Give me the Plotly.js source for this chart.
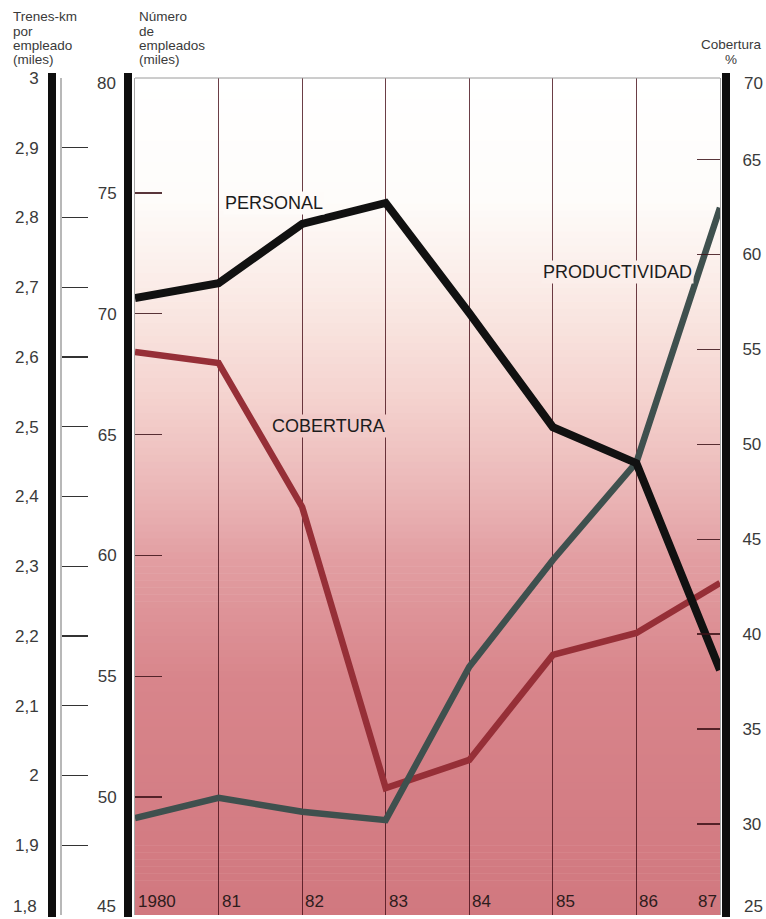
<!DOCTYPE html>
<html>
<head>
<meta charset="utf-8">
<script src="https://cdn.plot.ly/plotly-3.0.1.min.js"></script>
<style>html,body{margin:0;padding:0;background:#fff}</style>
</head>
<body>
<div id="chart" style="width:766px;height:919px"></div>
<script>
// Years on the horizontal axis
const years = [1980, 1981, 1982, 1983, 1984, 1985, 1986, 1987];
const yearLabels = ['1980', '81', '82', '83', '84', '85', '86', '87'];

// PERSONAL: número de empleados (miles)
const personal = [70.65, 71.27, 73.72, 74.59, 70.03, 65.31, 63.82, 55.26];
// COBERTURA: %
const cobertura = [54.86, 54.28, 46.7, 31.89, 33.37, 38.9, 40.06, 42.69];
// PRODUCTIVIDAD: trenes-km por empleado (miles)
const productividad = [1.939, 1.968, 1.948, 1.936, 2.156, 2.309, 2.449, 2.814];

// Tick values and labels for the three scales
const trenesTicks = [1.8, 1.9, 2.0, 2.1, 2.2, 2.3, 2.4, 2.5, 2.6, 2.7, 2.8, 2.9, 3.0];
const trenesText = ['', '1,9', '2', '2,1', '2,2', '2,3', '2,4', '2,5', '2,6', '2,7', '2,8', '2,9', '3'];
const trenesEnd = '1,8';
const empleadosTicks = [50, 55, 60, 65, 70, 75];
const empleadosEnds = ['80', '45'];
const coberturaTicks = [30, 35, 40, 45, 50, 55, 60, 65];
const coberturaEnds = ['70', '25'];

// Scale titles, one entry per line
const trenesTitle = ['Trenes-km', 'por', 'empleado', '(miles)'];
const empleadosTitle = ['Número', 'de', 'empleados', '(miles)'];
const coberturaTitle = ['Cobertura', '%'];

// Page geometry (pixels)
const W = 766, H = 919;
const PL = 135, PR = 720, PT = 78, PB = 915;
const px = x => x / W;
const py = y => (PB - y) / (PB - PT);

// Background wash: white at the top fading into pink at the bottom
const stops = [
  [78, [255, 255, 255]], [200, [254, 252, 250]], [300, [250, 233, 228]],
  [400, [244, 210, 206]], [480, [236, 186, 186]], [560, [226, 158, 162]],
  [680, [216, 133, 139]], [800, [212, 126, 133]], [915, [209, 120, 127]]
];
function bgAt(y) {
  for (let i = 0; i < stops.length - 1; i++) {
    const a = stops[i], b = stops[i + 1];
    if (y >= a[0] && y <= b[0]) {
      const t = (y - a[0]) / (b[0] - a[0]);
      const c = a[1].map((v, k) => Math.round(v + (b[1][k] - v) * t));
      return 'rgb(' + c.join(',') + ')';
    }
  }
  const c = y < stops[0][0] ? stops[0][1] : stops[stops.length - 1][1];
  return 'rgb(' + c.join(',') + ')';
}

const shapes = [];
const bands = 120;
const bh = (PB - PT) / bands;
for (let i = 0; i < bands; i++) {
  const y0 = PT + i * bh, y1 = y0 + bh + 0.6;
  shapes.push({
    type: 'rect', xref: 'paper', yref: 'paper', layer: 'below',
    x0: px(PL), x1: px(PR), y0: py(Math.min(y1, PB)), y1: py(y0),
    fillcolor: bgAt(y0 + bh / 2), line: { width: 0 }
  });
}
// Heavy black axis bars
[[48, 56], [124, 132], [722, 730]].forEach(([a, b]) => {
  shapes.push({
    type: 'rect', xref: 'paper', yref: 'paper', layer: 'above',
    x0: px(a), x1: px(b), y0: py(917), y1: py(73),
    fillcolor: '#0e0e0e', line: { width: 0 }
  });
});
// Thin frame line along the top
shapes.push({
  type: 'line', xref: 'paper', yref: 'paper', layer: 'above',
  x0: px(PL), x1: px(PR), y0: 1, y1: 1, line: { color: '#9a9a9a', width: 1 }
});

const FAMILY = 'Liberation Sans, Arial, sans-serif';
const tickFont = { family: FAMILY, size: 17, color: '#3a3a3a' };
const labelFont = { family: FAMILY, size: 18, color: '#1c1c1c' };
const titleFont = { family: FAMILY, size: 13.5, color: '#3a3a3a' };

const annotations = [];
// Line labels
[['PERSONAL', 274, 203], ['COBERTURA', 328, 426], ['PRODUCTIVIDAD', 617, 272]].forEach(([t, x, y]) => {
  annotations.push({
    text: t, xref: 'paper', yref: 'paper', x: px(x), y: py(y),
    xanchor: 'center', yanchor: 'middle', showarrow: false,
    font: labelFont, bgcolor: bgAt(y), borderpad: 1
  });
});
// Scale titles, line by line
function titleLines(lines, x, yFirst, anchor) {
  lines.forEach((t, i) => {
    annotations.push({
      text: t, xref: 'paper', yref: 'paper', x: px(x), y: py(yFirst + i * 14.3),
      xanchor: anchor, yanchor: 'middle', showarrow: false, font: titleFont
    });
  });
}
titleLines(trenesTitle, 11, 17, 'left');
titleLines(empleadosTitle, 137, 17, 'left');
titleLines(coberturaTitle, 731, 45, 'center');

// End labels of the scales
annotations.push({ text: empleadosEnds[0], xref: 'paper', yref: 'paper', x: px(118), y: py(83),
  xanchor: 'right', yanchor: 'middle', showarrow: false, font: tickFont });
annotations.push({ text: empleadosEnds[1], xref: 'paper', yref: 'paper', x: px(118), y: py(918),
  xanchor: 'right', yanchor: 'bottom', showarrow: false, font: tickFont });
annotations.push({ text: coberturaEnds[0], xref: 'paper', yref: 'paper', x: px(742), y: py(83),
  xanchor: 'left', yanchor: 'middle', showarrow: false, font: tickFont });
annotations.push({ text: coberturaEnds[1], xref: 'paper', yref: 'paper', x: px(742), y: py(918),
  xanchor: 'left', yanchor: 'bottom', showarrow: false, font: tickFont });
annotations.push({ text: trenesEnd, xref: 'paper', yref: 'paper', x: px(39), y: py(918),
  xanchor: 'right', yanchor: 'bottom', showarrow: false, font: tickFont });

// Year labels sitting inside the bottom of the plot
years.forEach((yr, i) => {
  const last = i === years.length - 1;
  annotations.push({
    text: yearLabels[i], xref: 'x', yref: 'paper', x: yr, y: py(901),
    xanchor: last ? 'right' : 'left', yanchor: 'middle', xshift: last ? -1 : 1,
    showarrow: false, font: { family: FAMILY, size: 17, color: '#2e1c1c' }
  });
});

const traces = [
  {
    x: years, y: cobertura, yaxis: 'y', type: 'scatter', mode: 'lines',
    line: { color: '#962f37', width: 6.5 }, hoverinfo: 'skip'
  },
  {
    x: years, y: productividad, yaxis: 'y2', type: 'scatter', mode: 'lines',
    line: { color: '#3f504e', width: 6.5 }, hoverinfo: 'skip'
  },
  {
    x: years, y: personal, yaxis: 'y3', type: 'scatter', mode: 'lines',
    line: { color: '#111111', width: 8 }, hoverinfo: 'skip'
  }
];

const layout = {
  width: W, height: H,
  margin: { l: 0, r: 0, t: PT, b: H - PB, pad: 0 },
  paper_bgcolor: '#ffffff', plot_bgcolor: 'rgba(0,0,0,0)',
  showlegend: false,
  font: tickFont,
  xaxis: {
    domain: [px(PL), px(PR)], range: [1980, 1987], tickvals: years,
    showticklabels: false, ticks: '', showgrid: true,
    gridcolor: 'rgba(70,14,24,0.8)', gridwidth: 1.2,
    zeroline: false, showline: false, fixedrange: true
  },
  yaxis: {
    side: 'right', anchor: 'x', range: [25.2, 69.3], tickvals: coberturaTicks,
    ticks: 'inside', ticklen: 23, tickwidth: 1.2, tickcolor: 'rgba(60,18,24,0.85)',
    showgrid: false, zeroline: false, showline: true, linecolor: '#a8a8a8', linewidth: 1,
    ticklabelstandoff: 18, tickfont: tickFont, fixedrange: true
  },
  yaxis2: {
    overlaying: 'y', side: 'left', anchor: 'free', position: px(60),
    range: [1.8, 3.0], tickvals: trenesTicks, ticktext: trenesText,
    ticks: 'inside', ticklen: 26, tickwidth: 1.2, tickcolor: '#333333',
    showgrid: false, zeroline: false, showline: true, linecolor: '#b8b8b8', linewidth: 1.5,
    ticklabelstandoff: 18, tickfont: tickFont, fixedrange: true
  },
  yaxis3: {
    overlaying: 'y', side: 'left', anchor: 'x',
    range: [45.12, 79.76], tickvals: empleadosTicks,
    ticks: 'inside', ticklen: 27, tickwidth: 1.2, tickcolor: 'rgba(60,18,24,0.85)',
    showgrid: false, zeroline: false, showline: true, linecolor: '#a8a8a8', linewidth: 1,
    ticklabelstandoff: 14, tickfont: tickFont, fixedrange: true
  },
  shapes: shapes,
  annotations: annotations
};

Plotly.newPlot('chart', traces, layout, { staticPlot: true, displayModeBar: false });
</script>
</body>
</html>
